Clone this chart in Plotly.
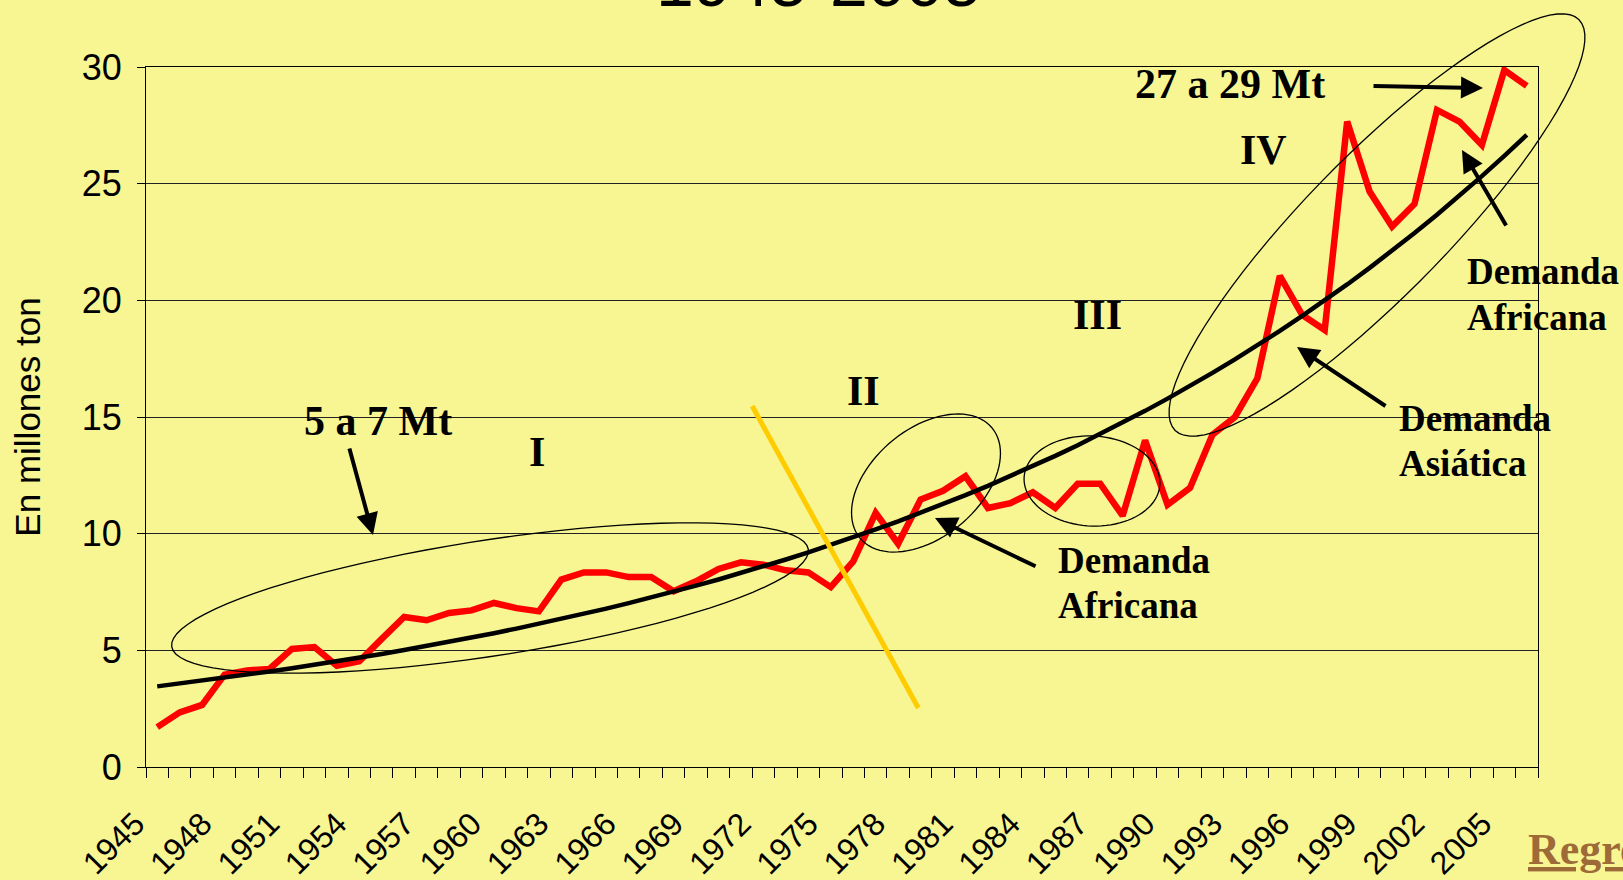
import numpy as np
import plotly.graph_objects as go

# ---------------- data ----------------
years = list(range(1945, 2007))
consumo = [1.71, 2.34, 2.66, 3.96, 4.14, 4.20, 5.06, 5.14, 4.34, 4.53,
           5.49, 6.43, 6.29, 6.60, 6.71, 7.03, 6.81, 6.67, 8.03, 8.34,
           8.34, 8.14, 8.14, 7.53, 7.96, 8.49, 8.77, 8.67, 8.43, 8.34,
           7.71, 8.81, 10.89, 9.57, 11.46, 11.84, 12.46, 11.10, 11.31, 11.77,
           11.10, 12.14, 12.14, 10.77, 14.00, 11.24, 11.96, 14.24, 15.00, 16.66,
           21.05, 19.37, 18.73, 27.66, 24.66, 23.16, 24.13, 28.16, 27.66, 26.66,
           29.87, 29.19]
label_years = list(range(1945, 2006, 3))
y_ticks = [0, 5, 10, 15, 20, 25, 30]

# exponential trend line (least squares on log values, like a spreadsheet trendline)
idx = np.arange(len(years))
b, a = np.polyfit(idx, np.log(consumo), 1)
tendencia = np.exp(a + b * idx)

# ---------------- geometry helpers (layout only) ----------------
W, H = 1623, 880
L, R, T, B = 146, 1538, 67, 767   # plot area in pixels


def pp(px, py):
    return (px - L) / (R - L), (B - py) / (B - T)


def ellipse_path(cx, cy, ra, rb, deg, n=90):
    th = np.radians(deg)
    pts = []
    for t in np.linspace(0, 2 * np.pi, n, endpoint=False):
        px = cx + ra * np.cos(t) * np.cos(th) - rb * np.sin(t) * np.sin(th)
        py = cy - (ra * np.cos(t) * np.sin(th) + rb * np.sin(t) * np.cos(th))
        x, y = pp(px, py)
        pts.append(f"{x:.5f},{y:.5f}")
    return "M " + " L ".join(pts) + " Z"


BG = "#F7F693"
SERIF = "Times New Roman, Liberation Serif, serif"
SANS = "Arial, Liberation Sans, sans-serif"

fig = go.Figure()
fig.add_trace(go.Scatter(x=years, y=consumo, mode="lines",
                         line=dict(color="#FF0000", width=6.5),
                         hoverinfo="skip", showlegend=False))
fig.add_trace(go.Scatter(x=years, y=tendencia, mode="lines",
                         line=dict(color="#000000", width=4.5),
                         hoverinfo="skip", showlegend=False))

shapes = []
# yellow divider line
shapes.append(dict(type="line", xref="x", yref="y", x0=1971.5, y0=15.47, x1=1978.9, y1=2.53,
                   line=dict(color="#FFCC00", width=5), layer="above"))
# ellipses
for (cx, cy, ra, rb, deg) in [(490, 598, 322, 58, 8.7),
                              (926, 483, 86, 54, 40),
                              (1092, 481, 68, 45, -3),
                              (1377, 225, 288, 70, 45.5)]:
    shapes.append(dict(type="path", xref="paper", yref="paper",
                       path=ellipse_path(cx, cy, ra, rb, deg),
                       line=dict(color="black", width=1.3), layer="above"))

ann = []


def text(px, py, s, size, anchor="center", font=SERIF, color="black", yanchor="middle"):
    x, y = pp(px, py)
    ann.append(dict(xref="paper", yref="paper", x=x, y=y, text=s, showarrow=False,
                    xanchor=anchor, yanchor=yanchor,
                    font=dict(family=font, size=size, color=color)))


def arrow(tail, tip):
    x, y = pp(*tip)
    ann.append(dict(xref="paper", yref="paper", x=x, y=y, text="", showarrow=True,
                    ax=tail[0] - tip[0], ay=tail[1] - tip[1],
                    arrowhead=2, arrowsize=1.1, arrowwidth=4, arrowcolor="black", standoff=0))


text(378, 421, "<b>5 a 7 Mt</b>", 42)
text(537, 452, "<b>I</b>", 42)
text(863, 391, "<b>II</b>", 42)
text(1097, 315, "<b>III</b>", 42)
text(1263, 150, "<b>IV</b>", 42)
text(1230, 84, "<b>27 a 29 Mt</b>", 42)
text(1056, 560, "<b>Demanda</b>", 37, anchor="left")
text(1056, 605, "<b>Africana</b>", 37, anchor="left")
text(1465, 271, "<b>Demanda</b>", 37, anchor="left")
text(1465, 317, "<b>Africana</b>", 37, anchor="left")
text(1397, 418, "<b>Demanda</b>", 37, anchor="left")
text(1397, 463, "<b>Asiática</b>", 37, anchor="left")

arrow((349, 447), (373, 535))
arrow((1037, 567), (935, 518))
arrow((1387, 407), (1297, 347))
arrow((1507, 227), (1462, 150))
arrow((1372, 86), (1483, 88))

# title (mostly cut off at the top of the slide)
text(818, 22, "1945-2005", 68, font=SANS, yanchor="bottom")
# hyperlink-like text at bottom right
text(1526, 876, "<b><u>Regresar</u></b>", 44, anchor="left", color="#9E6A38", yanchor="bottom")

boundaries = [y - 0.5 for y in years] + [years[-1] + 0.5]

fig.update_layout(
    width=W, height=H,
    margin=dict(l=L, r=W - R, t=T, b=H - B, pad=0, autoexpand=False),
    paper_bgcolor=BG, plot_bgcolor=BG,
    shapes=shapes, annotations=ann,
    showlegend=False,
    xaxis=dict(range=[years[0] - 0.5, years[-1] + 0.5], automargin=False,
               tickmode="array", tickvals=label_years,
               ticktext=[str(y) for y in label_years],
               tickangle=-45, ticks="", showgrid=False, zeroline=False,
               showline=True, linecolor="black", linewidth=1.2, mirror=True,
               tickfont=dict(family=SANS, size=32, color="black"),
               ticklabelstandoff=24, ticklabelshift=-22,
               minor=dict(tickmode="array", tickvals=boundaries, ticks="outside",
                          ticklen=10, tickcolor="black", tickwidth=1, showgrid=False)),
    yaxis=dict(range=[0, 30], tickmode="array", tickvals=y_ticks, automargin=False,
               ticks="outside", ticklen=8, tickcolor="black",
               showgrid=True, gridcolor="#222222", gridwidth=1, zeroline=False,
               showline=True, linecolor="black", linewidth=1.2, mirror=True,
               tickfont=dict(family=SANS, size=36, color="black"),
               ticklabelstandoff=8,
               title=dict(text="En millones ton", font=dict(family=SANS, size=35, color="black"),
                          standoff=30)),
)

fig.write_html("out.html", config={"displayModeBar": False},
               post_script="document.body.style.margin='0';document.body.style.overflow='hidden';")
